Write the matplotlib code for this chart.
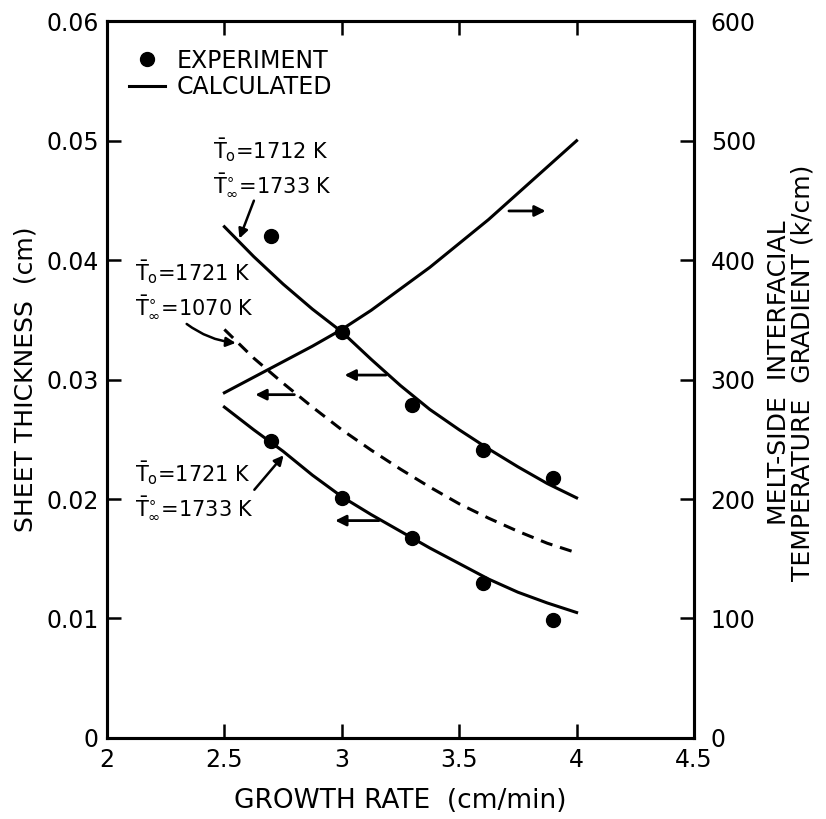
"""Sheet thickness and interfacial temperature gradient versus growth rate."""

import matplotlib

matplotlib.use("Agg")
import matplotlib.pyplot as plt
import numpy as np
from matplotlib.lines import Line2D

plt.rcParams["font.family"] = ["DejaVu Sans"]
plt.rcParams["mathtext.fontset"] = "dejavusans"

# measured sheet thickness (cm)
exp_rate = [2.7, 3.0, 3.3, 3.6, 3.9]
exp_thick_1712 = [0.0420, 0.0340, 0.0279, 0.0241, 0.0218]
exp_thick_1721 = [0.0249, 0.0201, 0.0167, 0.0130, 0.0099]

# calculated curves
calc_rate = [2.5, 2.625, 2.75, 2.875, 3.0, 3.125, 3.25,
             3.375, 3.5, 3.625, 3.75, 3.875, 4.0]
calc_thick_1712 = [0.0428, 0.0403, 0.0380, 0.0359, 0.0340, 0.0317, 0.0295,
                   0.0275, 0.0258, 0.0242, 0.0227, 0.0213, 0.0201]
calc_thick_1721_cold = [0.0342, 0.0318, 0.0297, 0.0277, 0.0258, 0.0241, 0.0225,
                        0.0210, 0.0196, 0.0184, 0.0173, 0.0163, 0.0155]
calc_thick_1721 = [0.0277, 0.0258, 0.0240, 0.0220, 0.0202, 0.0187, 0.0173,
                   0.0159, 0.0146, 0.0133, 0.0122, 0.0113, 0.0105]
calc_gradient = [289, 302, 315, 328, 342, 358, 376, 394, 414, 434, 456, 478, 500]

x_ticks = [2, 2.5, 3, 3.5, 4, 4.5]
x_ticklabels = ["2", "2.5", "3", "3.5", "4", "4.5"]
y_ticks = [0, 0.01, 0.02, 0.03, 0.04, 0.05, 0.06]
y_ticklabels = ["0", "0.01", "0.02", "0.03", "0.04", "0.05", "0.06"]
g_ticks = [0, 100, 200, 300, 400, 500, 600]

LW = 2.2
TICK_FS = 17

fig = plt.figure(figsize=(8.26, 8.19), dpi=100)
ax = fig.add_axes([0.1295, 0.099, 0.7107, 0.875])
ax2 = ax.twinx()

ax.plot(calc_rate, calc_thick_1712, color="black", lw=LW)
ax.plot(calc_rate, calc_thick_1721_cold, color="black", lw=LW, ls=(0, (4, 2.6)))
ax.plot(calc_rate, calc_thick_1721, color="black", lw=LW)
ax.plot(exp_rate, exp_thick_1712, "o", color="black", ms=10)
ax.plot(exp_rate, exp_thick_1721, "o", color="black", ms=10)
ax2.plot(calc_rate, calc_gradient, color="black", lw=LW)

ax.set_xlim(2, 4.5)
ax.set_ylim(0, 0.06)
ax2.set_ylim(0, 600)

ax.set_xticks(x_ticks)
ax.set_xticklabels(x_ticklabels)
ax.set_yticks(y_ticks)
ax.set_yticklabels(y_ticklabels)
ax2.set_yticks(g_ticks)

for a in (ax, ax2):
    for s in a.spines.values():
        s.set_linewidth(LW)
ax.tick_params(axis="both", direction="in", length=10, width=1.8,
               labelsize=TICK_FS, top=True)
ax.tick_params(axis="x", pad=7)
ax.tick_params(axis="y", pad=6)
ax2.tick_params(axis="y", direction="in", length=10, width=1.8,
                labelsize=TICK_FS, pad=12)

ax.set_xlabel("GROWTH RATE  (cm/min)", fontsize=19, labelpad=12)
ax.set_ylabel("SHEET THICKNESS  (cm)", fontsize=18, va="center")
ax.yaxis.set_label_coords(-0.139, 0.5)
ax2.set_ylabel("MELT-SIDE  INTERFACIAL\nTEMPERATURE  GRADIENT (k/cm)",
               fontsize=18, va="center", linespacing=0.95)
ax2.yaxis.set_label_coords(1.165, 0.51)


def curve_at(xs, ys, x):
    return float(np.interp(x, xs, ys))


arrow = dict(arrowstyle="-|>", color="black", lw=2, mutation_scale=16)

# arrows showing which axis each curve belongs to
for curve, x0, x1 in [(calc_thick_1712, 3.2, 3.0),
                      (calc_thick_1721_cold, 2.81, 2.62),
                      (calc_thick_1721, 3.17, 2.96)]:
    y = curve_at(calc_rate, curve, x0)
    ax.annotate("", xy=(x1, y), xytext=(x0, y), arrowprops=arrow)
yg = curve_at(calc_rate, calc_gradient, 3.70)
ax2.annotate("", xy=(3.88, yg - 6), xytext=(3.70, yg - 6), arrowprops=arrow)

# case labels
label_fs = 15
cases = [
    ("1712", "1733", (2.45, 0.0492), (2.63, 0.0452), calc_thick_1712, 2.56, 0.0),
    ("1721", "1070", (2.12, 0.0390), (2.33, 0.0348), calc_thick_1721_cold, 2.56, 0.15),
    ("1721", "1733", (2.12, 0.0222), (2.62, 0.0206), calc_thick_1721, 2.76, 0.0),
]
for t0, tinf, (tx, ty), tail, curve, xhead, rad in cases:
    ax.text(tx, ty, r"$\bar{\mathrm{T}}_{\mathrm{o}}$=" + t0 + " K",
            fontsize=label_fs, va="center")
    ax.text(tx, ty - 0.0029,
            r"$\bar{\mathrm{T}}^{\circ}_{\infty}$=" + tinf + " K",
            fontsize=label_fs, va="center")
    ax.annotate("", xy=(xhead, curve_at(calc_rate, curve, xhead)), xytext=tail,
                arrowprops=dict(arrowstyle="-|>", color="black", lw=1.8,
                                mutation_scale=14,
                                connectionstyle=f"arc3,rad={rad}"))

handles = [
    Line2D([], [], ls="none", marker="o", color="black", ms=10),
    Line2D([], [], color="black", lw=LW),
]
ax.legend(handles, ["EXPERIMENT", "CALCULATED"], loc="upper left",
          bbox_to_anchor=(0.01, 0.985), frameon=False, fontsize=17,
          handlelength=1.5, handletextpad=0.5, labelspacing=0.1,
          borderpad=0.2)

fig.savefig("out.png", dpi=100)
